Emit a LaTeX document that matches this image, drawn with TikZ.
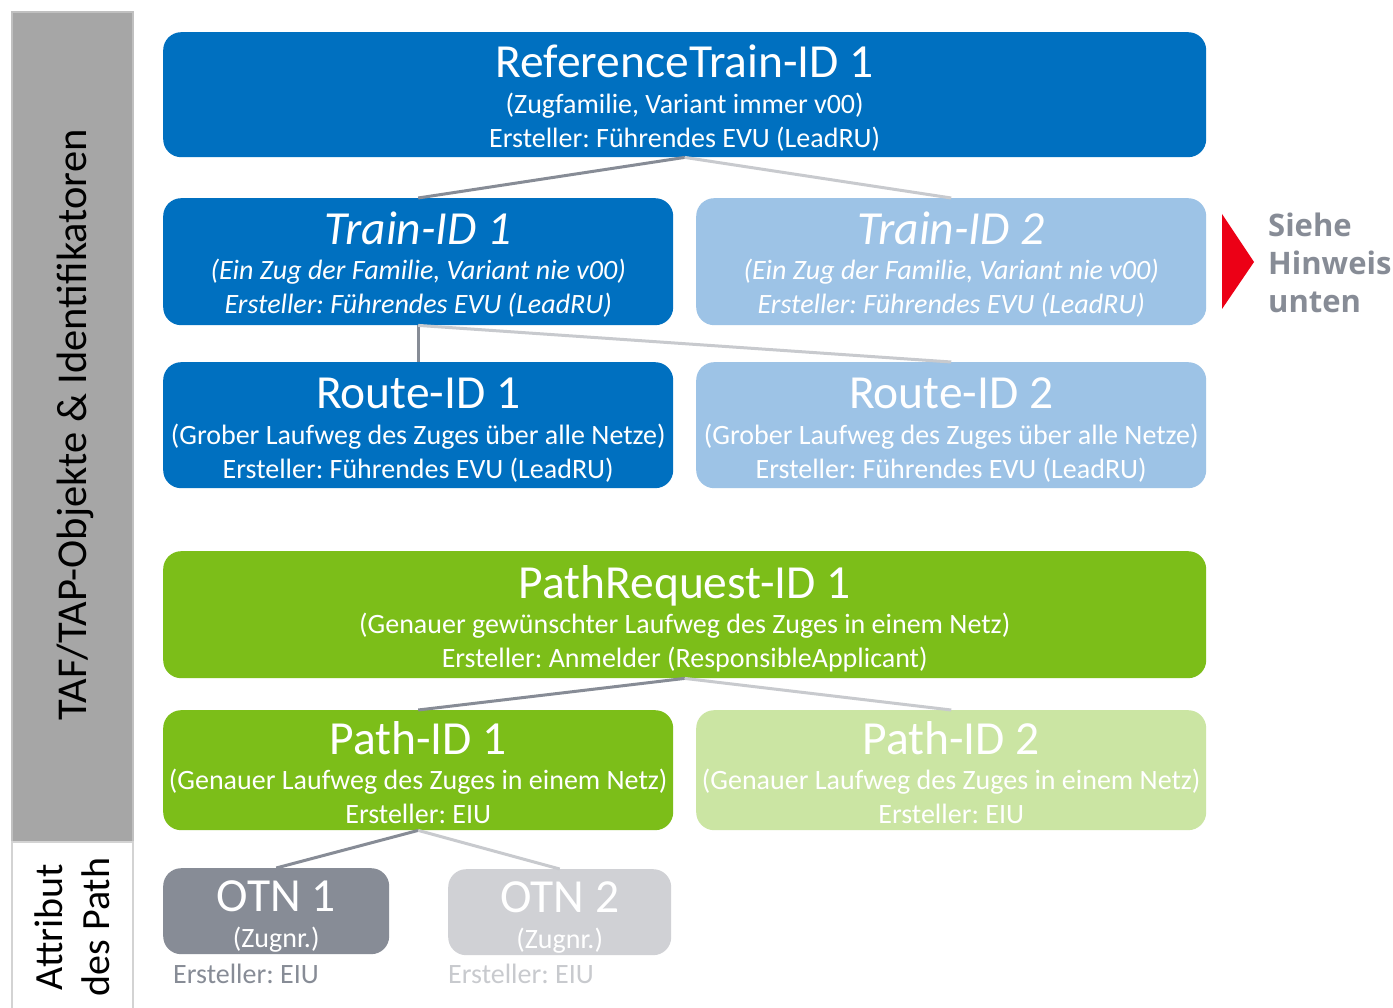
\documentclass[tikz,border=0pt]{standalone}
\usepackage{fontspec}
\setmainfont{Carlito}
\newfontfamily\hintfont{Open Sans}
\frenchspacing
\definecolor{dblue}{HTML}{0070C0}
\definecolor{lblue}{HTML}{9DC3E6}
\definecolor{dgreen}{HTML}{7CBE19}
\definecolor{lgreen}{HTML}{CBE5A3}
\definecolor{dgray}{HTML}{878C96}
\definecolor{lgray}{HTML}{D0D1D5}
\definecolor{lline}{HTML}{C8CACE}
\definecolor{barfill}{HTML}{A6A6A6}
\definecolor{barline}{HTML}{C0C0C0}
\definecolor{dbred}{HTML}{EC0016}
\begin{document}
\begin{tikzpicture}[x=1pt,y=-1pt,
  box/.style={rounded corners=18pt, inner sep=0pt, anchor=north west, draw=none},
  ttl/.style={anchor=base, text=white, inner sep=0pt, font=\fontsize{47.5}{52}\selectfont},
  sub/.style={anchor=base, text=white, inner sep=0pt, font=\fontsize{28}{32}\selectfont},
  darkline/.style={draw=dgray, line width=3pt},
  lightline/.style={draw=lline, line width=3pt}]
\useasboundingbox (0,0) rectangle (1393,1008);
\fill[white] (0,0) rectangle (1393,1008);
% left bar
\draw[fill=barfill, draw=barline, line width=2pt] (12,12) rectangle (133,842);
\draw[fill=white, draw=barline!70, line width=2pt] (12,842) rectangle (133,1012);
\node[rotate=90, inner sep=0pt, font=\fontsize{42.5}{46}\selectfont] (bartxt) at (75,425) {TAF/TAP-Objekte \& Identifikatoren};
\node[rotate=90, inner sep=0pt, align=center, font=\fontsize{40}{47}\selectfont] (attr) at (72,927) {Attribut\\des Path};
% boxes
\node[box, fill=dblue, minimum width=1043pt, minimum height=125pt] (ref) at (163,32) {};
\node[box, fill=dblue, minimum width=510pt, minimum height=127pt] (t1) at (163,198) {};
\node[box, fill=lblue, minimum width=510pt, minimum height=127pt] (t2) at (696,198) {};
\node[box, fill=dblue, minimum width=510pt, minimum height=126pt] (r1) at (163,362) {};
\node[box, fill=lblue, minimum width=510pt, minimum height=126pt] (r2) at (696,362) {};
\node[box, fill=dgreen, minimum width=1043pt, minimum height=127pt] (pr) at (163,551) {};
\node[box, fill=dgreen, minimum width=510pt, minimum height=120pt] (p1) at (163,710) {};
\node[box, fill=lgreen, minimum width=510pt, minimum height=120pt] (p2) at (696,710) {};
\node[box, fill=dgray, minimum width=226pt, minimum height=86pt] (o1) at (163,868) {};
\node[box, fill=lgray, minimum width=223pt, minimum height=86pt] (o2) at (448,869) {};
% connectors
\draw[darkline] (ref.south) -- (t1.north);
\draw[lightline] (ref.south) -- (t2.north);
\draw[darkline] (t1.south) -- (r1.north);
\draw[lightline] (t1.south) -- (r2.north);
\draw[darkline] (pr.south) -- (p1.north);
\draw[lightline] (pr.south) -- (p2.north);
\draw[darkline] (p1.south) -- (o1.north);
\draw[lightline] (p1.south) -- (o2.north);
% texts
\node[ttl] (refa) at ([yshift=-46pt]ref.north) {ReferenceTrain-ID 1};
\node[sub] (refb) at ([yshift=-82pt]ref.north) {(Zugfamilie, Variant immer v00)};
\node[sub] (refc) at ([yshift=-116pt]ref.north) {Ersteller: Führendes EVU (LeadRU)};
\node[ttl, font=\fontsize{47.5}{52}\selectfont\itshape] (t1a) at ([yshift=-47pt]t1.north) {Train-ID 1};
\node[sub, font=\fontsize{28}{32}\selectfont\itshape] (t1b) at ([yshift=-82pt]t1.north) {(Ein Zug der Familie, Variant nie v00)};
\node[sub, font=\fontsize{28}{32}\selectfont\itshape] (t1c) at ([yshift=-116pt]t1.north) {Ersteller: Führendes EVU (LeadRU)};
\node[ttl, font=\fontsize{47.5}{52}\selectfont\itshape] (t2a) at ([yshift=-47pt]t2.north) {Train-ID 2};
\node[sub, font=\fontsize{28}{32}\selectfont\itshape] (t2b) at ([yshift=-82pt]t2.north) {(Ein Zug der Familie, Variant nie v00)};
\node[sub, font=\fontsize{28}{32}\selectfont\itshape] (t2c) at ([yshift=-116pt]t2.north) {Ersteller: Führendes EVU (LeadRU)};
\node[ttl] (r1a) at ([yshift=-47pt]r1.north) {Route-ID 1};
\node[sub] (r1b) at ([yshift=-82pt]r1.north) {(Grober Laufweg des Zuges über alle Netze)};
\node[sub] (r1c) at ([yshift=-116pt]r1.north) {Ersteller: Führendes EVU (LeadRU)};
\node[ttl] (r2a) at ([yshift=-47pt]r2.north) {Route-ID 2};
\node[sub] (r2b) at ([yshift=-82pt]r2.north) {(Grober Laufweg des Zuges über alle Netze)};
\node[sub] (r2c) at ([yshift=-116pt]r2.north) {Ersteller: Führendes EVU (LeadRU)};
\node[ttl] (pra) at ([yshift=-47pt]pr.north) {PathRequest-ID 1};
\node[sub] (prb) at ([yshift=-82pt]pr.north) {(Genauer gewünschter Laufweg des Zuges in einem Netz)};
\node[sub] (prc) at ([yshift=-116pt]pr.north) {Ersteller: Anmelder (ResponsibleApplicant)};
\node[ttl] (p1a) at ([yshift=-44pt]p1.north) {Path-ID 1};
\node[sub] (p1b) at ([yshift=-79pt]p1.north) {(Genauer Laufweg des Zuges in einem Netz)};
\node[sub] (p1c) at ([yshift=-113pt]p1.north) {Ersteller: EIU};
\node[ttl] (p2a) at ([yshift=-44pt]p2.north) {Path-ID 2};
\node[sub] (p2b) at ([yshift=-79pt]p2.north) {(Genauer Laufweg des Zuges in einem Netz)};
\node[sub] (p2c) at ([yshift=-113pt]p2.north) {Ersteller: EIU};
\node[ttl] (o1a) at ([yshift=-43pt]o1.north) {OTN 1};
\node[sub] (o1b) at ([yshift=-79pt]o1.north) {(Zugnr.)};
\node[ttl] (o2a) at ([yshift=-43pt]o2.north) {OTN 2};
\node[sub] (o2b) at ([yshift=-79pt]o2.north) {(Zugnr.)};
\node[sub, anchor=base west, text=dgray] (o1c) at (173,983) {Ersteller: EIU};
\node[sub, anchor=base west, text=lline] (o2c) at (448,983) {Ersteller: EIU};
% hint
\fill[dbred] (1222,214) -- (1254,262) -- (1222,309) -- cycle;
\node[anchor=base west, inner sep=0pt, text=dgray, align=left,
  font=\hintfont\bfseries\fontsize{31}{38}\selectfont] (hint) at (1268,313)
  {Siehe\\Hinweis\\unten};
\end{tikzpicture}
\end{document}
